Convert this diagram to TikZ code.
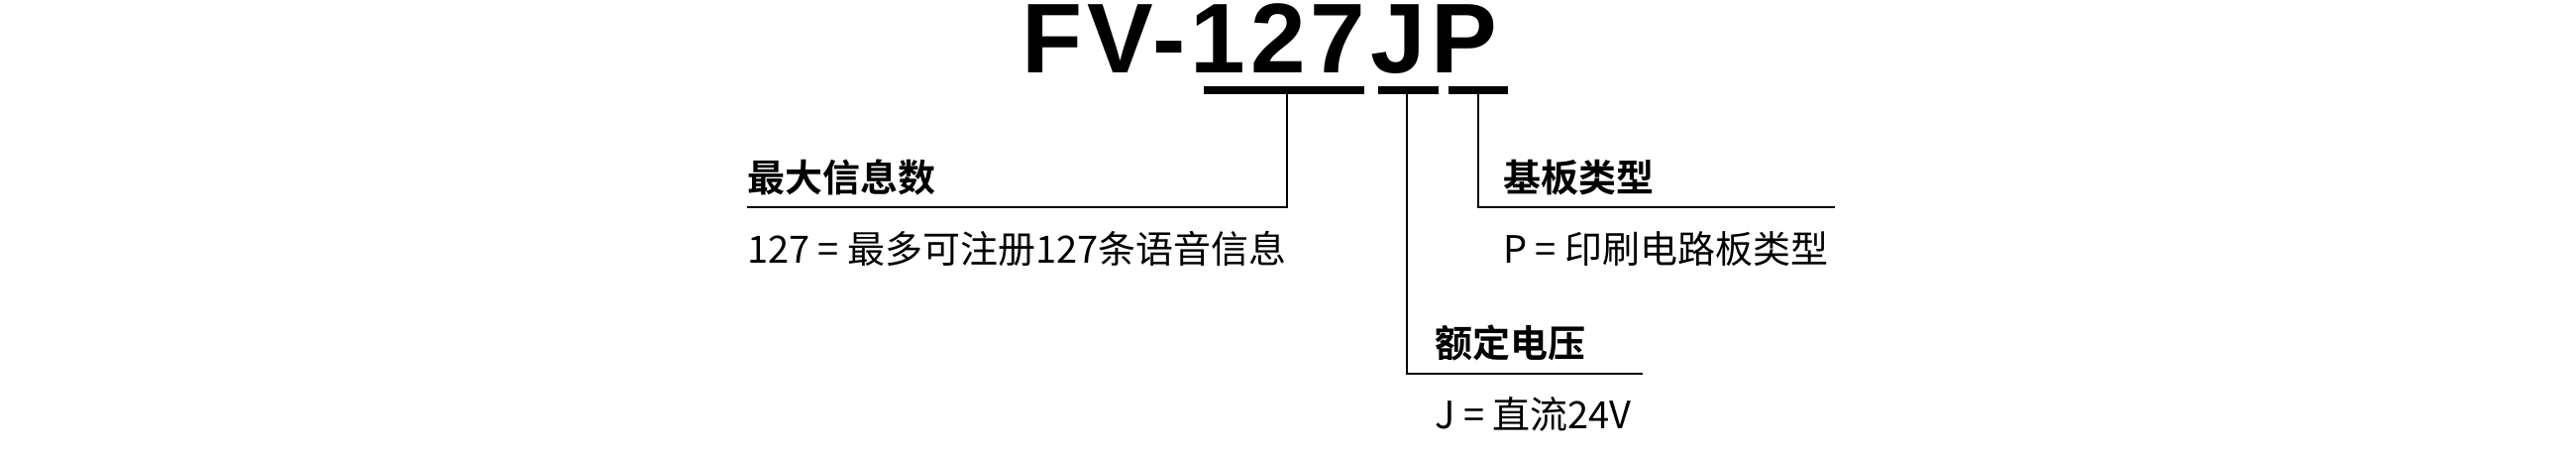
\documentclass[tikz,border=0pt]{standalone}
\usepackage{fontspec}
\setmainfont{Liberation Sans}
\newfontfamily\titlefont[LetterSpace=5]{Liberation Sans Bold}
\newfontfamily\cjkb{Noto Sans CJK SC Bold}
\newfontfamily\cjkr{Noto Sans CJK SC}
\begin{document}
\begin{tikzpicture}[x=1pt,y=-1pt,
  head/.style={anchor=base west,inner sep=0pt,font=\fontsize{38}{40}\cjkb},
  detail/.style={anchor=base west,inner sep=0pt,font=\fontsize{38}{40}\cjkr},
  bar/.style={line width=8pt},
  lead/.style={line width=1.6pt}]
\useasboundingbox (0,0) rectangle (2600,460);
\node[anchor=base west,inner sep=0pt,font=\fontsize{100}{100}\titlefont] (title) at (1031,74) {FV-127JP};
\coordinate (b1l) at (1215,91); \coordinate (b1r) at (1377,91);
\coordinate (b2l) at (1391,91); \coordinate (b2r) at (1452,91);
\coordinate (b3l) at (1462,91); \coordinate (b3r) at (1522,91);
\draw[bar] (b1l) -- (b1r);
\draw[bar] (b2l) -- (b2r);
\draw[bar] (b3l) -- (b3r);
\coordinate (t1) at (1299,95); \coordinate (t2) at (1420,95); \coordinate (t3) at (1492,95);
\coordinate (c1) at (1299,209); \coordinate (e1) at (754,209);
\coordinate (c2) at (1420,377); \coordinate (e2) at (1658,377);
\coordinate (c3) at (1492,209); \coordinate (e3) at (1852,209);
\draw[lead] (t1) -- (c1) -- (e1);
\draw[lead] (t2) -- (c2) -- (e2);
\draw[lead] (t3) -- (c3) -- (e3);
\node[head] (h1) at (754,193) {最大信息数};
\node[detail] (d1) at (754,265) {127 = 最多可注册127条语音信息};
\node[head] (h3) at (1517,193) {基板类型};
\node[detail] (d3) at (1517,265) {P = 印刷电路板类型};
\node[head] (h2) at (1448,360) {额定电压};
\node[detail] (d2) at (1448,432) {J = 直流24V};
\end{tikzpicture}
\end{document}
